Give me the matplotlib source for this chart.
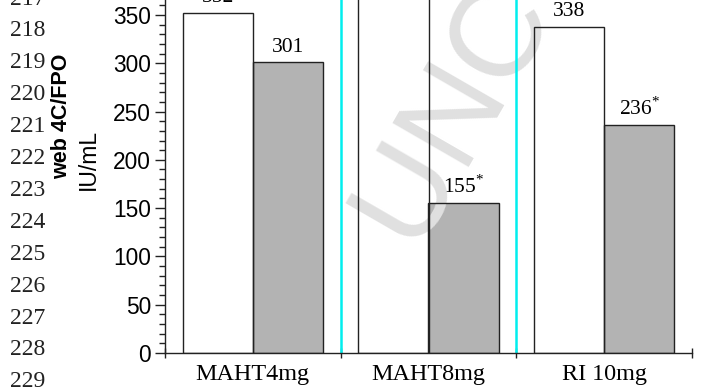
import numpy as np
import matplotlib
matplotlib.use("Agg")
import matplotlib.pyplot as plt
from matplotlib.ticker import MultipleLocator, FixedLocator

# data
groups = ["MAHT4mg", "MAHT8mg", "RI 10mg"]
before = [352, 390, 338]          # white bars (middle one runs off the top)
after = [301, 155, 236]           # grey bars
after_sig = [False, True, True]   # asterisk on the label
line_numbers = list(range(217, 230))

plt.rcParams["font.family"] = ["Liberation Sans", "DejaVu Sans"]
plt.rcParams["mathtext.fontset"] = "custom"
plt.rcParams["mathtext.rm"] = "Liberation Serif"

fig = plt.figure(figsize=(7.16, 3.89), dpi=100)
ax = fig.add_axes([165 / 716, 36 / 389, (692 - 165) / 716, 353 / 389])

x = np.arange(len(groups))
w = 0.4
# fills first, edges on top, so the watermark can sit in between
ax.bar(x - w / 2, before, w, color="white", linewidth=0, zorder=2)
ax.bar(x + w / 2, after, w, color="#b3b3b3", linewidth=0, zorder=2)
ax.bar(x - w / 2, before, w, fill=False, edgecolor="#222222", linewidth=1.0, zorder=4)
ax.bar(x + w / 2, after, w, fill=False, edgecolor="#222222", linewidth=1.0, zorder=4)

serif = ["Liberation Serif", "DejaVu Serif"]
for i in range(len(groups)):
    ax.annotate(str(before[i]), (x[i] - w / 2, before[i]), xytext=(0, 4),
                textcoords="offset points", ha="center", va="bottom",
                family=serif, fontsize=15.5, annotation_clip=False)
    lab = str(after[i])
    if after_sig[i]:
        lab = lab + r"$^{\mathrm{*}}$"
    ax.annotate(lab, (x[i] + w / 2, after[i]), xytext=(0, 4),
                textcoords="offset points", ha="center", va="bottom",
                family=serif, fontsize=15.5, annotation_clip=False)

# cyan separators between groups
for b in [0.5, 1.5]:
    ax.axvline(b, color="#00eeee", linewidth=1.8, zorder=5)

ax.set_xlim(-0.5, 2.5)
ax.set_ylim(0, 365.5)
ax.spines["top"].set_visible(False)
ax.spines["right"].set_visible(False)
for s in ["left", "bottom"]:
    ax.spines[s].set_linewidth(1.0)
    ax.spines[s].set_color("#222222")
    ax.spines[s].set_zorder(6)

ax.yaxis.set_major_locator(MultipleLocator(50))
ax.yaxis.set_minor_locator(MultipleLocator(10))
ax.tick_params(axis="y", which="major", direction="out", length=7, width=1.0,
               labelsize=16.4, pad=3, color="#222222")
ax.tick_params(axis="y", which="minor", direction="out", length=4, width=1.0,
               color="#222222")

ax.xaxis.set_major_locator(FixedLocator([-0.5, 0.5, 1.5, 2.5]))
ax.xaxis.set_minor_locator(FixedLocator(x))
ax.set_xticklabels([])
ax.set_xticklabels(groups, minor=True, family=serif, fontsize=17.4)
ax.tick_params(axis="x", which="major", direction="inout", length=7, width=1.0,
               color="#222222")
ax.tick_params(axis="x", which="minor", length=0, pad=8)

# y label pieces
fig.text(62 / 716, 1 - 116 / 389, "web 4C/FPO", rotation=90, ha="center",
         va="center", fontsize=15.5, fontweight="bold")
fig.text(88 / 716, 1 - 159 / 389, "IU/mL", rotation=90, ha="center",
         va="center", fontsize=16.5)

# page line numbers
for k, n in enumerate(line_numbers):
    fig.text(10 / 716, 1 - (-1 + 31.9 * k) / 389, str(n), ha="left",
             va="center", family=serif, fontsize=17, color="#222222")

# faint proof watermark (over the bar fills, under the outlines)
ax.text(418 / 716, 1 - 256 / 389, "UNCORRECTED PROOF", rotation=60,
        rotation_mode="anchor", ha="left", va="baseline", fontsize=92,
        color="#e0e0e0", transform=fig.transFigure, clip_on=False, zorder=3)

fig.savefig("out.png", dpi=100)
